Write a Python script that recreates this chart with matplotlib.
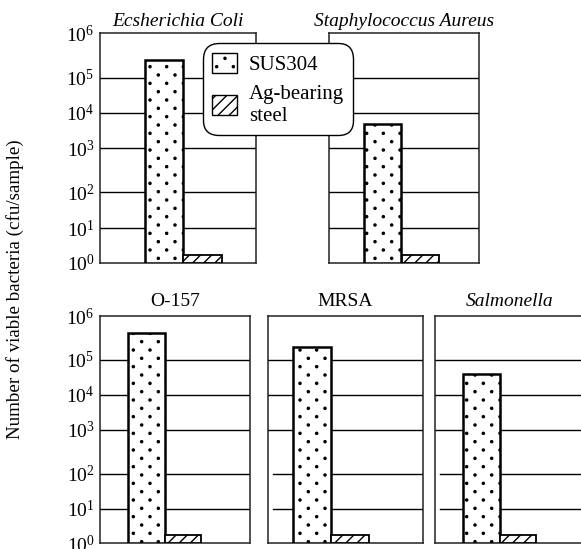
import numpy as np
import matplotlib
matplotlib.use("Agg")
import matplotlib.pyplot as plt
import matplotlib.hatch as mhatch
from matplotlib.patches import Patch
from matplotlib.path import Path

plt.rcParams["font.family"] = ["Liberation Serif", "DejaVu Serif"]
plt.rcParams["mathtext.fontset"] = "custom"
plt.rcParams["mathtext.rm"] = "Liberation Serif"
plt.rcParams["mathtext.it"] = "Liberation Serif:italic"
plt.rcParams["hatch.linewidth"] = 1.0

# Viable bacteria counts (cfu/sample) per test organism
organisms = ["Ecsherichia Coli", "Staphylococcus Aureus", "O-157", "MRSA", "Salmonella"]
italic_title = [True, True, False, False, True]
sus304 = [2.5e5, 4.7e3, 4.0e5, 2.0e5, 3.9e4]
ag_steel = [1.7, 1.7, 1.7, 1.7, 1.7]
series_labels = ["SUS304", "Ag-bearing\nsteel"]
decades = [0, 1, 2, 3, 4, 5, 6]
ylabel = "Number of viable bacteria (cfu/sample)"

# Vertical position of each decade on the axis (fraction of axis height)
decade_pos = [0.0, 0.151, 0.307, 0.5, 0.653, 0.807, 1.0]


def fwd(y):
    y = np.asarray(y, dtype=float)
    ly = np.log10(np.clip(y, 1e-3, None))
    return np.interp(ly, decades, decade_pos)


def inv(p):
    p = np.asarray(p, dtype=float)
    return 10.0 ** np.interp(p, decade_pos, decades)


class StippleDots(mhatch.HatchPatternBase):
    """Stipple texture for '.': staggered dots, rows twice as dense as columns."""
    circle = Path.unit_circle()
    radius = 0.0105

    def __init__(self, hatch, density):
        n = hatch.count(".") * density
        self.points = []
        if n:
            rows = 2 * n
            for r in range(rows + 1):
                if r % 2 == 0:
                    xs = np.arange(n + 1) / n
                else:
                    xs = (np.arange(n) + 0.5) / n
                self.points.extend((x, r / rows) for x in xs)
        self.num_vertices = len(self.points) * len(self.circle.vertices)

    def set_vertices_and_codes(self, vertices, codes):
        cv = self.circle.vertices * self.radius
        nv = len(cv)
        for k, (x, y) in enumerate(self.points):
            vertices[k * nv:(k + 1) * nv] = cv + (x, y)
            codes[k * nv:(k + 1) * nv] = self.circle.codes


mhatch._hatch_types = [StippleDots if t is mhatch.SmallFilledCircles else t
                       for t in mhatch._hatch_types]

W, H = 581, 549
fig = plt.figure(figsize=(W / 100, H / 100), dpi=100)

# Panel boxes in pixels: left, top, right, bottom
panel_px = [
    (100, 33.3, 256, 262.7),
    (329.3, 33.3, 479, 262.7),
    (100, 316, 250, 543.3),
    (268, 316, 422.7, 543.3),
    (435, 316, 585, 543.3),
]
show_ticklabels = [True, False, True, False, False]
title_pad = [5, 5, 7, 7, 7]
# Where the two lowest grid lines start (fraction of panel width)
low_grid_start = [0.0, 0.0, 0.0, 0.033, 0.033]
# Left edge of the SUS304 bar and gap between bars (fraction of panel width)
bar_left = [0.290, 0.232, 0.185, 0.160, 0.185]
bar_gap = [0.0, 0.011, 0.0, 0.0, 0.0]
bar_w = 0.245

for i, (l, t, r, b) in enumerate(panel_px):
    ax = fig.add_axes([l / W, 1 - b / H, (r - l) / W, (b - t) / H])
    ax.set_yscale("function", functions=(fwd, inv))
    ax.set_ylim(1, 1e6)
    ax.set_xlim(0, 1)
    for k in decades[1:-1]:
        start = low_grid_start[i] if k <= 2 else 0.0
        ax.axhline(10.0 ** k, xmin=start, color="black", lw=1.0, zorder=1)
    x0 = bar_left[i]
    x1 = x0 + bar_w + bar_gap[i]
    ax.bar(x0, sus304[i] - 1, bottom=1, width=bar_w, align="edge",
           facecolor="white", edgecolor="black", linewidth=1.8,
           hatch=".", zorder=3)
    ax.bar(x1, ag_steel[i] - 1, bottom=1, width=bar_w, align="edge",
           facecolor="white", edgecolor="black", linewidth=1.3,
           hatch="///", zorder=3)
    ax.set_xticks([])
    ax.yaxis.set_minor_locator(matplotlib.ticker.NullLocator())
    ax.set_yticks([10.0 ** k for k in decades])
    if show_ticklabels[i]:
        ax.set_yticklabels([r"$10^{%d}$" % k for k in decades], fontsize=14)
    else:
        ax.set_yticklabels([])
    ax.tick_params(axis="y", length=0, pad=4)
    for s in ax.spines.values():
        s.set_linewidth(1.1)
        s.set_color("#222222")
    ax.set_title(organisms[i], fontsize=14,
                 fontstyle="italic" if italic_title[i] else "normal",
                 pad=title_pad[i])

fig.text(15 / W, 1 - 289 / H, ylabel, rotation=90, ha="center", va="center",
         fontsize=13.7)

handles = [
    Patch(facecolor="white", edgecolor="black", hatch=".", linewidth=1.0),
    Patch(facecolor="white", edgecolor="black", hatch="///", linewidth=1.0),
]
leg = fig.legend(handles, series_labels, loc="upper left",
                 bbox_to_anchor=(203 / W, 1 - 43.3 / H),
                 bbox_transform=fig.transFigure, fontsize=15,
                 handlelength=1.2, handleheight=1.1, handletextpad=0.55,
                 borderpad=0.45, labelspacing=0.5, borderaxespad=0,
                 fancybox=True, framealpha=1, edgecolor="black")
leg.get_frame().set_boxstyle("round,pad=0,rounding_size=0.75")
leg.get_frame().set_linewidth(1.0)
leg.set_zorder(10)

fig.savefig("out.png", dpi=100)
